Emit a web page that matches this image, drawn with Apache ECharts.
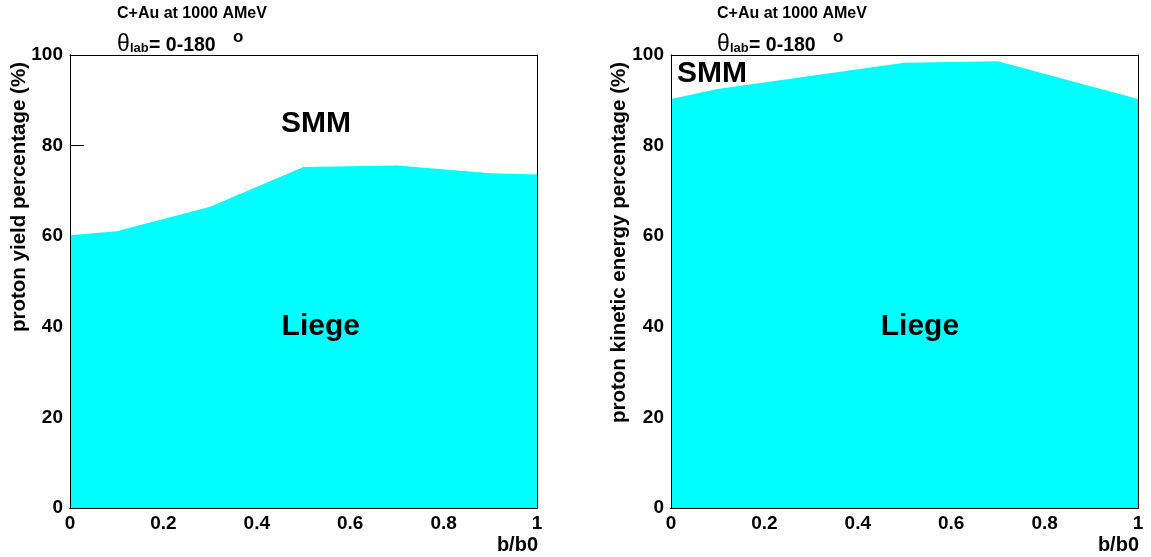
<!DOCTYPE html>
<html>
<head>
<meta charset="utf-8">
<script src="https://cdn.jsdelivr.net/npm/echarts@6/dist/echarts.min.js"></script>
<style>
html,body{margin:0;padding:0;background:#fff;}
#c{width:1151px;height:557px;}
</style>
</head>
<body>
<div id="c"></div>
<script>
// ---- data ----
var yieldB = [0, 0.1, 0.3, 0.5, 0.7, 0.9, 1];
var yieldLiege = [60.2, 61.1, 66.5, 75.3, 75.6, 73.9, 73.6];
var energyB = [0, 0.1, 0.5, 0.7, 1];
var energyLiege = [90.3, 92.5, 98.3, 98.6, 90.3];
var xTicks = [0, 0.2, 0.4, 0.6, 0.8, 1];
var yTicks = [0, 20, 40, 60, 80, 100];
var titleText = 'C+Au at 1000 AMeV';
var yTitles = ['proton yield percentage (%)', 'proton kinetic energy percentage (%)'];
var xTitle = 'b/b0';
var regionLabels = ['SMM', 'Liege'];

var FONT = '"Liberation Sans", Arial, Helvetica, sans-serif';
var chart = echarts.init(document.getElementById('c'), null, {renderer: 'canvas'});

function zip(a, b) { return a.map(function (v, i) { return [v, b[i]]; }); }

var grids = [
  {left: 70, top: 55, width: 467, height: 453},
  {left: 671, top: 55, width: 467, height: 453}
];

var xAxes = [], yAxes = [];
[0, 1].forEach(function (g) {
  xAxes.push({
    type: 'value', gridIndex: g, min: 0, max: 1, interval: 0.2, position: 'bottom',
    axisLine: {show: true, lineStyle: {color: '#000', width: 1}},
    axisTick: {show: true, inside: true, length: 14, lineStyle: {color: '#000'}},
    axisLabel: {show: true, color: '#000', fontFamily: FONT, fontWeight: 'bold', fontSize: 19, margin: 6,
      formatter: function (v) { return xTicks.indexOf(v) >= 0 ? String(v) : ''; }},
    splitLine: {show: false}, z: 0
  });
});
[0, 1].forEach(function (g) {
  yAxes.push({
    type: 'value', gridIndex: g, min: 0, max: 100, interval: 20, position: 'left',
    axisLine: {show: true, lineStyle: {color: '#000', width: 1}},
    axisTick: {show: true, inside: true, length: 14, lineStyle: {color: '#000'}},
    axisLabel: {show: true, color: '#000', fontFamily: FONT, fontWeight: 'bold', fontSize: 19, margin: 7,
      formatter: function (v) { return yTicks.indexOf(v) >= 0 ? String(v) : ''; }},
    splitLine: {show: false}, z: 0
  });
});
// frame lines drawn on top of the fill
[0, 1].forEach(function (g) {
  ['top', 'bottom'].forEach(function (pos) {
    xAxes.push({type: 'value', gridIndex: g, min: 0, max: 1, position: pos,
      axisLine: {show: true, onZero: false, lineStyle: {color: '#000', width: 1}},
      axisTick: {show: false}, axisLabel: {show: false}, splitLine: {show: false}, z: 10});
  });
  ['right', 'left'].forEach(function (pos) {
    yAxes.push({type: 'value', gridIndex: g, min: 0, max: 100, position: pos,
      axisLine: {show: true, onZero: false, lineStyle: {color: '#000', width: 1}},
      axisTick: {show: false}, axisLabel: {show: false}, splitLine: {show: false}, z: 10});
  });
});

function areaSeries(g, xs, ys) {
  return {
    type: 'line', xAxisIndex: g, yAxisIndex: g, data: zip(xs, ys),
    symbol: 'none', lineStyle: {width: 0, color: '#00ffff'},
    areaStyle: {color: '#00ffff', opacity: 1}, z: 2, silent: true
  };
}
function labelSeries(g, pts) {
  return {
    type: 'scatter', xAxisIndex: g, yAxisIndex: g, data: pts,
    symbolSize: 1, itemStyle: {color: 'rgba(0,0,0,0)', opacity: 1}, z: 5, silent: true,
    label: {show: true, position: 'inside', color: '#000', opacity: 1, fontFamily: FONT, fontWeight: 'bold', fontSize: 30,
      textBorderWidth: 0, formatter: function (p) { return p.value[2]; }}
  };
}

function titleGraphics(x0) {
  var B = 'bold 16px ' + FONT;
  return [
    {type: 'text', x: x0, y: 13.5, style: {text: titleText, font: B, fill: '#000', align: 'left', verticalAlign: 'middle'}},
    {type: 'text', x: x0, y: 45, style: {text: '\u03b8', font: '23px ' + FONT, fill: '#000', align: 'left', verticalAlign: 'middle'}},
    {type: 'text', x: x0 + 13, y: 48.5, style: {text: 'lab', font: 'bold 13px ' + FONT, fill: '#000', align: 'left', verticalAlign: 'middle'}},
    {type: 'text', x: x0 + 32, y: 45.5, style: {text: '= 0-180', font: 'bold 19.5px ' + FONT, fill: '#000', align: 'left', verticalAlign: 'middle'}},
    {type: 'text', x: x0 + 116, y: 37, style: {text: 'o', font: 'bold 17px ' + FONT, fill: '#000', align: 'left', verticalAlign: 'middle'}}
  ];
}

var graphics = [].concat(titleGraphics(117), titleGraphics(717));
graphics.push({type: 'text', x: 19, y: 332, rotation: Math.PI / 2,
  style: {text: yTitles[0], font: 'bold 20.5px ' + FONT, fill: '#000', align: 'left', verticalAlign: 'middle'}});
graphics.push({type: 'text', x: 619, y: 423, rotation: Math.PI / 2,
  style: {text: yTitles[1], font: 'bold 20.5px ' + FONT, fill: '#000', align: 'left', verticalAlign: 'middle'}});
graphics.push({type: 'text', x: 538, y: 545, style: {text: xTitle, font: 'bold 20px ' + FONT, fill: '#000', align: 'right', verticalAlign: 'middle'}});
graphics.push({type: 'text', x: 1139, y: 545, style: {text: xTitle, font: 'bold 20px ' + FONT, fill: '#000', align: 'right', verticalAlign: 'middle'}});

chart.setOption({
  animation: false,
  backgroundColor: '#fff',
  grid: grids,
  xAxis: xAxes,
  yAxis: yAxes,
  series: [
    areaSeries(0, yieldB, yieldLiege),
    areaSeries(1, energyB, energyLiege),
    labelSeries(0, [[0.527, 84.8, regionLabels[0]], [0.537, 40.0, regionLabels[1]]]),
    labelSeries(1, [[0.088, 95.8, regionLabels[0]], [0.533, 40.0, regionLabels[1]]])
  ],
  graphic: graphics
});
</script>
</body>
</html>
